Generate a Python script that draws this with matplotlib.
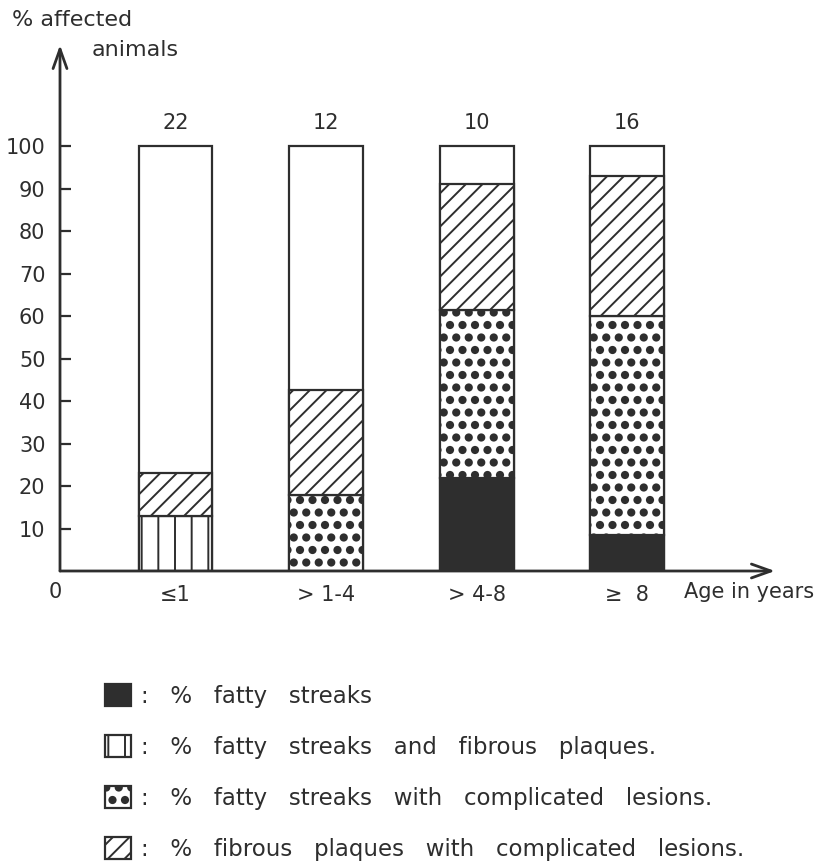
import numpy as np
import matplotlib
matplotlib.use("Agg")
import matplotlib.pyplot as plt
import matplotlib.hatch as mhatch
from matplotlib.patches import Patch

# data (percent of animals, bottom -> top)
age_groups = ["≤1", "> 1-4", "> 4-8", "≥  8"]
n_animals = [22, 12, 10, 16]
fatty_streaks = [0, 0, 22, 8.5]
fatty_fibrous = [13, 0, 0, 0]
fatty_complicated = [0, 18, 39.5, 51.5]
fibrous_complicated = [10, 24.5, 29.5, 33]
totals = [100, 100, 100, 100]

labels = [
    ":   %   fatty   streaks",
    ":   %   fatty   streaks   and   fibrous   plaques.",
    ":   %   fatty   streaks   with   complicated   lesions.",
    ":   %   fibrous   plaques   with   complicated   lesions.",
]

INK = "#2e2e2e"


# bigger filled dots than matplotlib's default '.' hatch
class BigDots(mhatch.Circles):
    size = 0.25
    filled = True

    def __init__(self, hatch, density):
        self.num_rows = hatch.count('.') * 8  # must be even
        super().__init__(hatch, density)


mhatch._hatch_types[mhatch._hatch_types.index(mhatch.SmallFilledCircles)] = BigDots

plt.rcParams["font.family"] = "DejaVu Sans"
plt.rcParams["hatch.linewidth"] = 1.4
plt.rcParams["hatch.color"] = INK

fig = plt.figure(figsize=(8.27, 8.66), dpi=100)
ax = fig.add_axes([60 / 827, 1 - 571 / 866, 715 / 827, 526 / 866])

x = np.arange(len(age_groups))
w = 0.49
ax.bar(x, totals, w, color="white", edgecolor=INK, lw=1.6, zorder=1)

styles = [
    (fatty_streaks, dict(facecolor=INK)),
    (fatty_fibrous, dict(facecolor="white", hatch="|")),
    (fatty_complicated, dict(facecolor="white", hatch=".")),
    (fibrous_complicated, dict(facecolor="white", hatch="//")),
]
bottom = np.zeros(len(x))
handles = []
for vals, st in styles:
    vals = np.array(vals, dtype=float)
    mask = vals > 0
    ax.bar(x[mask], vals[mask], w, bottom=bottom[mask], edgecolor=INK, lw=1.6, zorder=2, **st)
    bottom += vals
    handles.append(Patch(edgecolor=INK, lw=1.6, **st))

for xi, n in zip(x, n_animals):
    ax.text(xi, 103, str(n), ha="center", va="bottom", fontsize=15, color=INK)

ax.set_xlim(-0.767, 3.98)
ax.set_ylim(0, 123.8)
ax.set_yticks(range(10, 101, 10))
ax.tick_params(axis="y", direction="in", length=8, width=1.6, pad=10.5,
               labelsize=15, colors=INK)
ax.set_xticks(x)
ax.set_xticklabels(age_groups)
ax.tick_params(axis="x", length=0, pad=10, labelsize=15, colors=INK)
for s in ax.spines.values():
    s.set_visible(False)

head = "->,head_length=0.7,head_width=0.25"
ax.annotate("", xy=(0, 1), xytext=(0, 0), xycoords="axes fraction",
            arrowprops=dict(arrowstyle=head, lw=2, color=INK, mutation_scale=20,
                            shrinkA=0, shrinkB=0))
ax.annotate("", xy=(1, 0), xytext=(0, 0), xycoords="axes fraction",
            arrowprops=dict(arrowstyle=head, lw=2, color=INK, mutation_scale=20,
                            shrinkA=0, shrinkB=0))

fig.text(12 / 827, 1 - 20 / 866, "% affected", fontsize=16, color=INK, va="center")
fig.text(92 / 827, 1 - 50 / 866, "animals", fontsize=16, color=INK, va="center")
fig.text(55 / 827, 1 - 592 / 866, "0", fontsize=15, color=INK, ha="center", va="center")
fig.text(684 / 827, 1 - 592 / 866, "Age in years", fontsize=15, color=INK, va="center")

fig.legend(handles, labels, loc="upper left", bbox_to_anchor=(105 / 827, 1 - 684 / 866),
           frameon=False, fontsize=16.5, handlelength=1.12, handleheight=1.12,
           handletextpad=0.45, labelspacing=1.18, borderpad=0, borderaxespad=0,
           labelcolor=INK)

fig.savefig("out.png", dpi=100, facecolor="white")
